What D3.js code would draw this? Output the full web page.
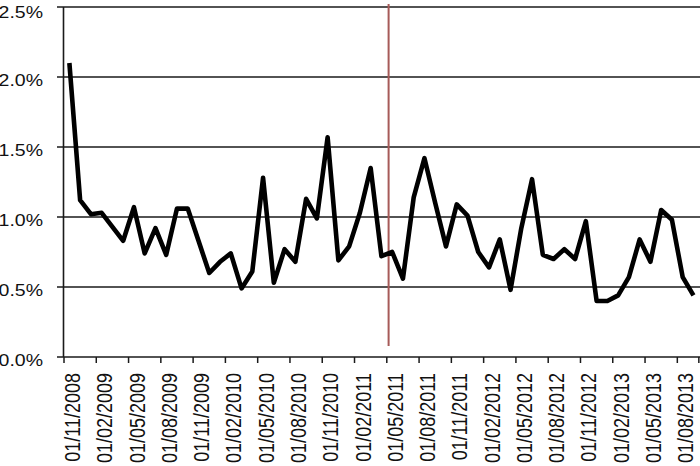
<!DOCTYPE html>
<html>
<head>
<meta charset="utf-8">
<script src="https://cdn.jsdelivr.net/npm/d3@7"></script>
<style>
  html, body { margin: 0; padding: 0; background: #fff; }
  svg { display: block; font-family: "Liberation Sans", Arial, Helvetica, sans-serif; }
</style>
</head>
<body>
<svg id="chart" width="700" height="466"></svg>
<script>
// ---- data (monthly rate, %) starting 01/11/2008 ----
const months = ["2008-11","2008-12","2009-01","2009-02","2009-03","2009-04","2009-05","2009-06","2009-07","2009-08","2009-09","2009-10",
  "2009-11","2009-12","2010-01","2010-02","2010-03","2010-04","2010-05","2010-06","2010-07","2010-08","2010-09","2010-10",
  "2010-11","2010-12","2011-01","2011-02","2011-03","2011-04","2011-05","2011-06","2011-07","2011-08","2011-09","2011-10",
  "2011-11","2011-12","2012-01","2012-02","2012-03","2012-04","2012-05","2012-06","2012-07","2012-08","2012-09","2012-10",
  "2012-11","2012-12","2013-01","2013-02","2013-03","2013-04","2013-05","2013-06","2013-07","2013-08","2013-09"];
const values = [2.10,1.12,1.02,1.03,0.93,0.83,1.07,0.74,0.92,0.73,1.06,1.06,
  0.83,0.60,0.68,0.74,0.49,0.61,1.28,0.53,0.77,0.68,1.13,0.99,
  1.57,0.69,0.79,1.03,1.35,0.72,0.75,0.56,1.14,1.42,1.10,0.79,
  1.09,1.01,0.75,0.64,0.84,0.48,0.92,1.27,0.73,0.70,0.77,0.70,
  0.97,0.40,0.40,0.44,0.57,0.84,0.68,1.05,0.98,0.57,0.44];
const axisMonths = months.concat(["2013-10"]);
const tickMonths = ["2008-11","2009-02","2009-05","2009-08","2009-11","2010-02","2010-05","2010-08","2010-11","2011-02",
  "2011-05","2011-08","2011-11","2012-02","2012-05","2012-08","2012-11","2013-02","2013-05","2013-08"];
const tickLabels = ["01/11/2008","01/02/2009","01/05/2009","01/08/2009","01/11/2009","01/02/2010","01/05/2010","01/08/2010","01/11/2010","01/02/2011",
  "01/05/2011","01/08/2011","01/11/2011","01/02/2012","01/05/2012","01/08/2012","01/11/2012","01/02/2013","01/05/2013","01/08/2013"];
const yTicks = [0, 0.5, 1.0, 1.5, 2.0, 2.5];
const markerMonth = "2011-05";

// ---- layout ----
const mLeft = 64, mTop = 7, mBottom = 357, step = 10.76;
const svg = d3.select("#chart");
const stretch = 1.22;

const x = d3.scaleBand().domain(axisMonths).range([mLeft, mLeft + step * axisMonths.length]).paddingInner(0).paddingOuter(0);
const y = d3.scaleLinear().domain([0, 2.5]).range([mBottom, mTop]);

// gridlines + y ticks
svg.append("g").selectAll("line").data(yTicks).join("line")
  .attr("x1", mLeft - 7).attr("x2", 700)
  .attr("y1", d => y(d)).attr("y2", d => y(d))
  .attr("stroke", "#1a1a1a").attr("stroke-width", 1.5);

// y axis line
svg.append("line")
  .attr("x1", mLeft - 0.5).attr("x2", mLeft - 0.5)
  .attr("y1", y(2.5)).attr("y2", y(0))
  .attr("stroke", "#1a1a1a").attr("stroke-width", 1.6);

// y labels
svg.append("g").selectAll("text").data(yTicks).join("text")
  .attr("transform", d => `translate(43,${Math.max(y(d) + 8.5, 18)}) scale(${stretch},1)`)
  .attr("text-anchor", "end")
  .attr("font-size", 16)
  .attr("fill", "#111")
  .text(d => d.toFixed(1) + "%");

// x ticks
svg.append("g").selectAll("line").data(tickMonths.concat(["2013-10"]).filter(d => x(d) !== undefined)).join("line")
  .attr("x1", d => x(d)).attr("x2", d => x(d))
  .attr("y1", mBottom).attr("y2", mBottom + 6)
  .attr("stroke", "#1a1a1a").attr("stroke-width", 1.5);

// x labels
svg.append("g").selectAll("text").data(tickMonths).join("text")
  .attr("transform", (d) => `translate(${x(d) + 16},373) scale(${stretch},1) rotate(-90)`)
  .attr("text-anchor", "end")
  .attr("font-size", 18)
  .attr("fill", "#111")
  .text((d, i) => tickLabels[i]);

// marker line
svg.append("line")
  .attr("x1", x(markerMonth) + 1.8).attr("x2", x(markerMonth) + 1.8)
  .attr("y1", 4).attr("y2", 346)
  .attr("stroke", "#a65a58").attr("stroke-width", 2);

// series line
const line = d3.line()
  .x((d, i) => x(months[i]) + x.bandwidth() / 2)
  .y(d => y(d));
svg.append("path")
  .datum(values)
  .attr("d", line)
  .attr("fill", "none")
  .attr("stroke", "#000")
  .attr("stroke-width", 4.6)
  .attr("stroke-linejoin", "round")
  .attr("stroke-linecap", "butt");
</script>
</body>
</html>
